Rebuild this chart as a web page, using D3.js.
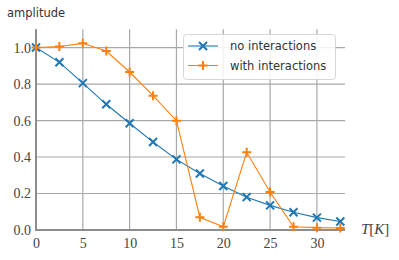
<!DOCTYPE html>
<html><head><meta charset="utf-8">
<script src="https://cdn.jsdelivr.net/npm/d3@7"></script>
<style>body{margin:0;background:#fff}svg{display:block}
.tick text{font-family:'Liberation Serif','DejaVu Serif',serif !important;font-size:14px !important;fill:#444 !important}</style>
</head><body><svg id="c" width="399" height="260"></svg>
<script>
const temps = [0, 2.5, 5, 7.5, 10, 12.5, 15, 17.5, 20, 22.5, 25, 27.5, 30, 32.5];
const noInteractions = [1.0, 0.919, 0.805, 0.689, 0.585, 0.482, 0.387, 0.31, 0.241, 0.18, 0.135, 0.097, 0.068, 0.047];
const withInteractions = [1.0, 1.006, 1.023, 0.981, 0.866, 0.736, 0.599, 0.07, 0.018, 0.426, 0.208, 0.018, 0.013, 0.011];
const xTicks = [0, 5, 10, 15, 20, 25, 30];
const yTicks = [0.0, 0.2, 0.4, 0.6, 0.8, 1.0];
const seriesNames = ["no interactions", "with interactions"];
const colors = ["#1f77b4", "#ff7f0e"];

const svg = d3.select("#c");
const L = 36, R = 345, T = 29.3, B = 230;
const x = d3.scaleLinear().domain([0, 33]).range([L, R]);
const y = d3.scaleLinear().domain([0, 1.1]).range([B, T]);

// grid
const g = svg.append("g");
g.selectAll(".vg").data(xTicks).enter().append("line")
  .attr("x1", d => x(d)).attr("x2", d => x(d)).attr("y1", T).attr("y2", B)
  .attr("stroke", "#a8a8a8").attr("stroke-width", 1.2);
g.selectAll(".hg").data(yTicks).enter().append("line")
  .attr("x1", L).attr("x2", R).attr("y1", d => y(d)).attr("y2", d => y(d))
  .attr("stroke", "#a8a8a8").attr("stroke-width", 1.2);

// axes
const xAxis = d3.axisBottom(x).tickValues(xTicks).tickSize(0).tickPadding(8).tickFormat(d3.format("d"));
const yAxis = d3.axisLeft(y).tickValues(yTicks).tickSize(0).tickPadding(5).tickFormat(d3.format(".1f"));
const gx = svg.append("g").attr("transform", `translate(0,${B})`).call(xAxis);
const gy = svg.append("g").attr("transform", `translate(${L},0)`).call(yAxis);
[gx, gy].forEach(a => {
  a.attr("font-family", null).attr("font-size", null);
  a.select(".domain").remove();
});
// spines
svg.append("line").attr("x1", L).attr("x2", L).attr("y1", T).attr("y2", B + 1)
  .attr("stroke", "#8c8c8c").attr("stroke-width", 2);
svg.append("line").attr("x1", L - 1).attr("x2", R).attr("y1", B).attr("y2", B)
  .attr("stroke", "#8c8c8c").attr("stroke-width", 2);

// series
const series = [noInteractions, withInteractions];
const line = d3.line().x((d, i) => x(temps[i])).y(d => y(d));
function marker(sel, k, cx, cy) {
  const s = 4;
  const p = k === 0
    ? `M${cx - s},${cy - s}L${cx + s},${cy + s}M${cx - s},${cy + s}L${cx + s},${cy - s}`
    : `M${cx - s - 0.5},${cy}L${cx + s + 0.5},${cy}M${cx},${cy - s - 0.5}L${cx},${cy + s + 0.5}`;
  sel.append("path").attr("d", p).attr("stroke", colors[k]).attr("stroke-width", 2).attr("fill", "none");
}
series.forEach((vals, k) => {
  svg.append("path").datum(vals).attr("d", line).attr("fill", "none")
    .attr("stroke", colors[k]).attr("stroke-width", 1.1);
  const mg = svg.append("g");
  vals.forEach((v, i) => marker(mg, k, x(temps[i]), y(v)));
});

// labels
svg.append("text").attr("x", 7).attr("y", 17).text("amplitude")
  .attr("font-family", "'DejaVu Sans',sans-serif").attr("font-size", 11.5).attr("fill", "#333");
const tl = svg.append("text").attr("x", 361).attr("y", 234)
  .attr("font-family", "'Liberation Serif','DejaVu Serif',serif").attr("font-size", 15).attr("fill", "#444");
tl.append("tspan").attr("font-style", "italic").text("T");
tl.append("tspan").text("[");
tl.append("tspan").attr("font-style", "italic").text("K");
tl.append("tspan").text("]");

// legend
const lg = svg.append("g");
lg.append("rect").attr("x", 183.5).attr("y", 34.5).attr("width", 152).attr("height", 45).attr("rx", 3)
  .attr("fill", "#fff").attr("fill-opacity", 0.85).attr("stroke", "#d6d6d6").attr("stroke-width", 1);
seriesNames.forEach((name, k) => {
  const cy = 46 + k * 19.5;
  lg.append("line").attr("x1", 188).attr("x2", 218).attr("y1", cy).attr("y2", cy)
    .attr("stroke", colors[k]).attr("stroke-width", 1.1);
  marker(lg, k, 203, cy);
  lg.append("text").attr("x", 230).attr("y", cy + 4).text(name)
    .attr("font-family", "'DejaVu Sans',sans-serif").attr("font-size", 11.5).attr("fill", "#333");
});
</script></body></html>
